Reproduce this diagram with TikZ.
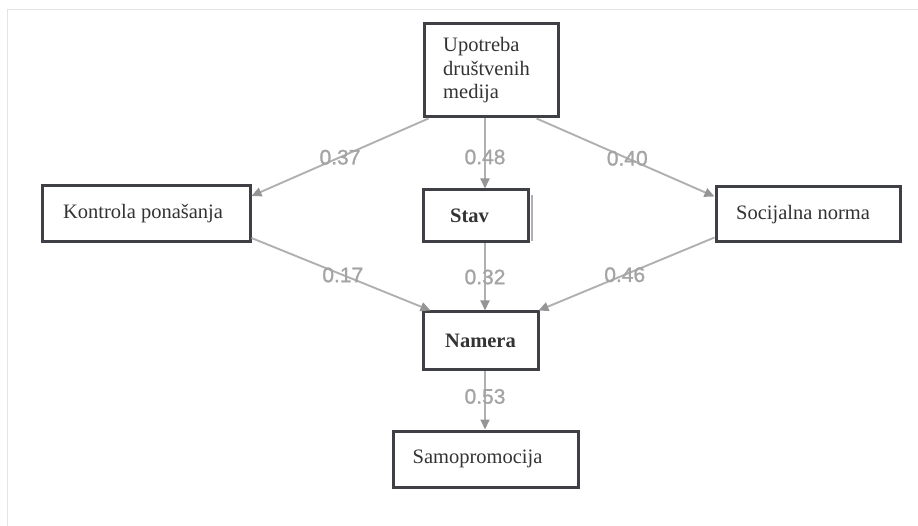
\documentclass[tikz,border=0pt]{standalone}
\usepackage{fontspec}
\setmainfont{Liberation Serif}
\newfontfamily\labelfont[FakeBold=1.2]{Liberation Sans}
\usetikzlibrary{arrows.meta,calc}
\definecolor{boxline}{HTML}{3E4045}
\definecolor{arrowgray}{HTML}{B0B0B0}
\definecolor{tipgray}{HTML}{959595}
\definecolor{labelgray}{HTML}{A4A4A4}
\definecolor{framegray}{HTML}{E4E4E4}
\begin{document}
\begin{tikzpicture}[x=1pt,y=-1pt,
  box/.style={draw=boxline, line width=3pt, rectangle, inner sep=0pt,
    font=\fontsize{20.5}{23.5}\selectfont, text=black!80},
  conn/.style={draw=arrowgray, line width=1.9pt,
    -{Triangle[length=10pt,width=9pt,color=tipgray]}},
  coef/.style={font=\labelfont\fontsize{21}{24}\selectfont, text=labelgray, inner sep=0pt}]
\useasboundingbox (0,0) rectangle (918,526);
\draw[framegray, line width=1pt] (7,526) -- (7,10) -- (918,10);
% nodes
\node[box, minimum width=134pt, minimum height=93pt, align=left] (up) at (491,70.5)
  {\hspace*{-9pt}Upotreba\\\hspace*{-9pt}društvenih\\\hspace*{-9pt}medija};
\node[box, minimum width=208pt, minimum height=56pt] (kon) at (146,214) {\hspace*{-6pt}Kontrola ponašanja};
\node[box, minimum width=105pt, minimum height=52pt] (stav) at (475.5,216) {\hspace*{-12pt}\textbf{Stav}};
\node[box, minimum width=184pt, minimum height=55pt] (soc) at (808,214.5) {\hspace*{-10pt}Socijalna norma};
\node[box, minimum width=115pt, minimum height=58pt] (nam) at (480.5,341) {\textbf{Namera}};
\node[box, minimum width=185pt, minimum height=56pt] (samo) at (485.5,459) {\hspace*{-16pt}Samopromocija};
\draw[arrowgray, line width=1.2pt] ([xshift=2.5pt,yshift=-7pt]stav.north east) -- ([xshift=2.5pt,yshift=2pt]stav.south east);
\coordinate (cx) at (485,0);
% connectors
\draw[conn] ([xshift=6pt]up.south west) -- node[coef, pos=0.5] (l1) {0.37} ([yshift=18pt]kon.east);
\draw[conn] (up.south -| cx) -- node[coef, pos=0.55] (l2) {0.48} (stav.north -| cx);
\draw[conn] ([xshift=-23pt]up.south east) -- node[coef, pos=0.51] (l3) {0.40} ([yshift=18pt]soc.west);
\draw[conn] ([yshift=-24pt]kon.east) -- node[coef, pos=0.51] (l4) {0.17} ([xshift=9pt]nam.north west);
\draw[conn] (stav.south -| cx) -- node[coef, pos=0.5] (l5) {0.32} (nam.north -| cx);
\draw[conn] ([yshift=-23pt]soc.west) -- node[coef, pos=0.51] (l6) {0.46} ([xshift=-1pt]nam.north east);
\draw[conn] (nam.south -| cx) -- node[coef, pos=0.43] (l7) {0.53} (samo.north -| cx);
\end{tikzpicture}
\end{document}
